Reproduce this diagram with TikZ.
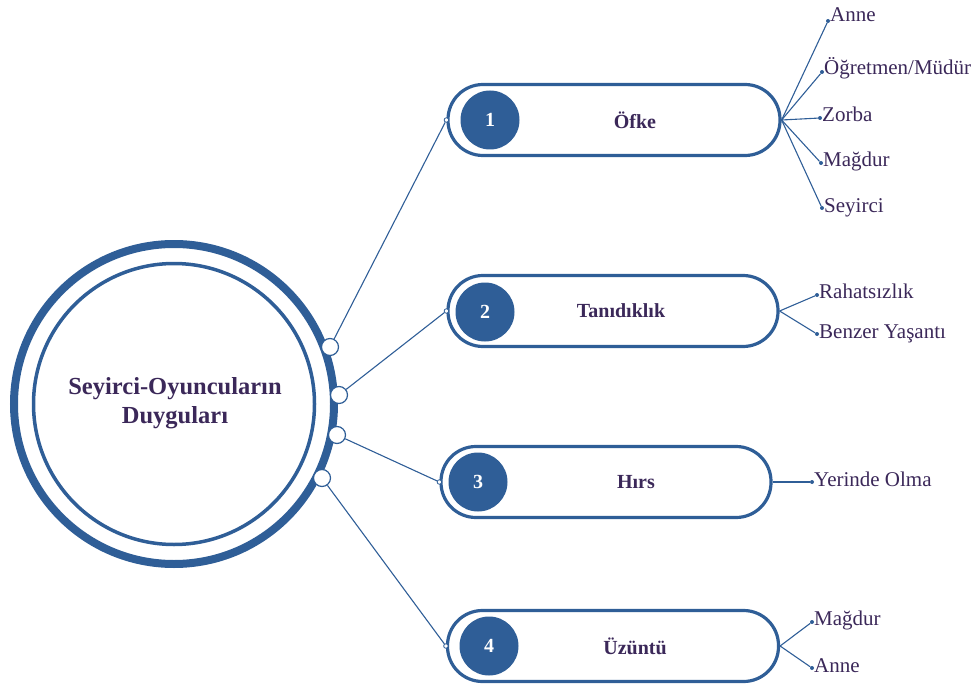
\documentclass[tikz,border=0pt]{standalone}
\usepackage{fontspec}
\setmainfont{Liberation Serif}
\definecolor{cblue}{HTML}{2F5E97}
\definecolor{ctext}{HTML}{3B2859}
\begin{document}
\begin{tikzpicture}[x=1pt,y=-1pt,
 pill/.style={draw=cblue,line width=3.2pt,rounded corners=35pt,minimum height=71pt,inner sep=0pt,fill=white},
 num/.style={circle,fill=cblue,minimum size=59pt,inner sep=0pt,text=white,font=\bfseries\fontsize{20}{24}\selectfont},
 title/.style={text=ctext,font=\bfseries\fontsize{20}{24}\selectfont},
 leaf/.style={text=ctext,font=\fontsize{21}{24}\selectfont,anchor=base west,inner sep=0pt},
 dot/.style={circle,fill=cblue,minimum size=4pt,inner sep=0pt},
 port/.style={circle,draw=cblue,fill=white,line width=1.2pt,minimum size=17pt,inner sep=0pt},
 pin/.style={circle,draw=cblue,fill=white,line width=0.8pt,minimum size=4.5pt,inner sep=0pt},
 link/.style={draw=cblue,line width=1.1pt}
]
\useasboundingbox (0,0) rectangle (979,687);

% central circle
\node[circle,draw=cblue,line width=8pt,minimum size=320pt,inner sep=0pt] (outer) at (174,404) {};
\node[circle,draw=cblue,line width=3.5pt,minimum size=281pt,inner sep=0pt] (inner) at (174,404) {};
\node[text=ctext,font=\bfseries\fontsize{24.5}{29}\selectfont,align=center] (center) at (175,403) {Seyirci-Oyuncuların\\Duyguları};

% pills
\node[pill,minimum width=332pt] (pill1) at (614,120) {};
\node[pill,minimum width=330pt] (pill2) at (613,311) {};
\node[pill,minimum width=330pt] (pill3) at (606,482) {};
\node[pill,minimum width=331pt] (pill4) at (613,646) {};

\node[num] (n1) at (490,120) {1};
\node[num] (n2) at (485,312) {2};
\node[num] (n3) at (478,482) {3};
\node[num] (n4) at (489,646) {4};

\node[title] (t1) at (635,120) {Öfke};
\node[title] (t2) at (621,311) {Tanıdıklık};
\node[title] (t3) at (636,482) {Hırs};
\node[title] (t4) at (635,646) {Üzüntü};

% pins at pill left ends
\node[pin] (pin1) at (pill1.west) {};
\node[pin] (pin2) at (pill2.west) {};
\node[pin] (pin3) at (pill3.west) {};
\node[pin] (pin4) at (pill4.west) {};

% ports on the ring
\node[port] (p1) at (330,347) {};
\node[port] (p2) at (339,395) {};
\node[port] (p3) at (337,435) {};
\node[port] (p4) at (322,478) {};

\draw[link] (p1) -- (pin1);
\draw[link] (p2) -- (pin2);
\draw[link] (p3) -- (pin3);
\draw[link] (p4) -- (pin4);

% leaves of pill 1
\node[dot] (a1) at (828,21) {};
\node[dot] (a2) at (822,72) {};
\node[dot] (a3) at (820,118) {};
\node[dot] (a4) at (821,163) {};
\node[dot] (a5) at (822,208) {};
\foreach \i in {1,...,5} \draw[link] (pill1.east) -- (a\i);
\node[leaf] (la1) at (830,22) {Anne};
\node[leaf] (la2) at (824,75) {Öğretmen/Müdür};
\node[leaf] (la3) at (822,122) {Zorba};
\node[leaf] (la4) at (823,167) {Mağdur};
\node[leaf] (la5) at (824,212) {Seyirci};

% leaves of pill 2
\node[dot] (b1) at (817,295) {};
\node[dot] (b2) at (817,334) {};
\foreach \i in {1,2} \draw[link] (pill2.east) -- (b\i);
\node[leaf] (lb1) at (819,298) {Rahatsızlık};
\node[leaf] (lb2) at (819,338) {Benzer Yaşantı};

% leaf of pill 3
\node[dot] (c1) at (812,482) {};
\draw[link] (pill3.east) -- (c1);
\node[leaf] (lc1) at (814,486) {Yerinde Olma};

% leaves of pill 4
\node[dot] (d1) at (812,622) {};
\node[dot] (d2) at (812,668) {};
\foreach \i in {1,2} \draw[link] (pill4.east) -- (d\i);
\node[leaf] (ld1) at (814,625) {Mağdur};
\node[leaf] (ld2) at (814,672) {Anne};
\end{tikzpicture}
\end{document}
